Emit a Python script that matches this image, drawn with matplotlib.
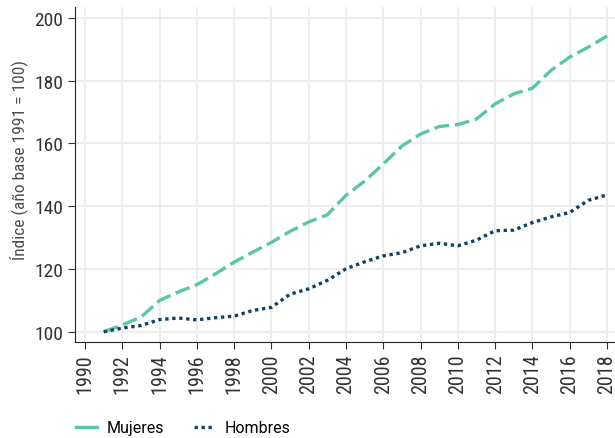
import matplotlib
matplotlib.use('Agg')
import matplotlib.pyplot as plt
from matplotlib.lines import Line2D
from matplotlib import font_manager

years = list(range(1991, 2019))
mujeres = [100, 102.2, 104.7, 110, 112.7, 115, 118.5, 122.2, 125.4, 128.5,
           132, 135, 137.3, 143.5, 148, 153.5, 159.2, 163, 165.4, 166,
           167.8, 172.6, 175.8, 177.6, 183.3, 187.5, 190.7, 194.2]
hombres = [100, 101.2, 102, 103.9, 104.4, 103.8, 104.5, 105, 106.8, 107.8,
           112, 113.7, 116.4, 120.1, 122.3, 124.2, 125.2, 127.4, 128.2, 127.4,
           129.2, 132.2, 132.4, 134.8, 136.6, 138, 141.9, 143.6]
xticks = list(range(1990, 2019, 2))
yticks = [100, 120, 140, 160, 180, 200]

names = {f.name for f in font_manager.fontManager.ttflist}
fam = 'DejaVu Sans'
for cand in ['Roboto Condensed', 'Liberation Sans Narrow', 'Roboto']:
    if cand in names:
        fam = cand
        break
plt.rcParams['font.family'] = [fam, 'DejaVu Sans']
legfam = 'Roboto' if 'Roboto' in names else fam

teal = '#5cc4aa'
navy = '#0f4263'

fig = plt.figure(figsize=(6.15, 4.39), dpi=100)
ax = fig.add_axes([0.122, 0.219, 0.878, 0.763])

ax.plot(years, mujeres, color=teal, lw=2.4, dashes=(4.5, 1.7))
ax.plot(years, hombres, color=navy, lw=2.4, dashes=(1, 1.1))

ax.set_xlim(1989.46, 2018.43)
ax.set_ylim(96.8, 203.5)
ax.set_xticks(xticks)
ax.set_yticks(yticks)
ax.tick_params(axis='x', rotation=90, labelsize=14.5, colors='#333333', length=5)
ax.tick_params(axis='y', labelsize=14, colors='#333333', length=5)
ax.grid(True, color='#eeeeee', lw=1.5)
ax.set_axisbelow(True)
for s in ['top', 'right']:
    ax.spines[s].set_visible(False)
ax.spines['left'].set_color('#222222')
ax.spines['bottom'].set_color('#222222')
ax.set_ylabel('Índice (año base 1991 = 100)', fontsize=12.5, color='#4d4d4d')
ax.yaxis.set_label_coords(-0.088, 0.546)

handles = [Line2D([], [], color=teal, lw=2.4),
           Line2D([], [], color=navy, lw=2.4, dashes=(1, 1.1))]
fig.legend(handles, ['Mujeres', 'Hombres'], loc='lower left',
           bbox_to_anchor=(0.1, -0.027), ncol=2, frameon=False,
           prop={'family': legfam, 'size': 11.5}, handlelength=1.3,
           handletextpad=0.6, columnspacing=1.9)

fig.savefig('out.png', dpi=100)
